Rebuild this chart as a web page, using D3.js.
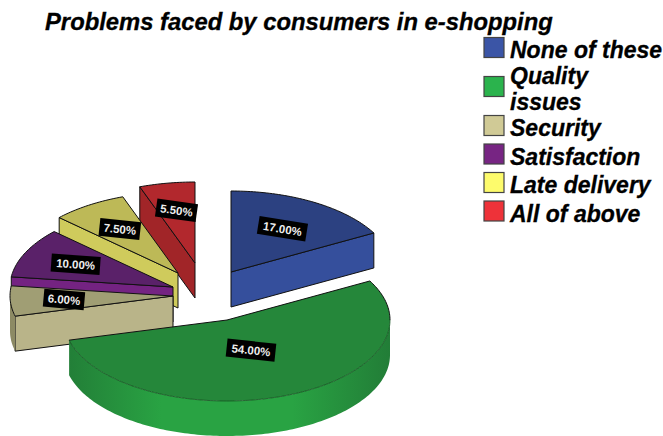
<!DOCTYPE html>
<html>
<head>
<meta charset="utf-8">
<script src="https://cdn.jsdelivr.net/npm/d3@7/dist/d3.min.js"></script>
<style>
  html, body { margin: 0; padding: 0; background: #fff; }
  svg { display: block; }
  text { font-family: "Liberation Sans", Arial, sans-serif; }
</style>
</head>
<body>
<svg id="chart" width="663" height="436"></svg>
<script>
// Share of respondents per problem, in pie order (clockwise from 12 o'clock)
const categories = ["None of these", "Quality issues", "Security", "Satisfaction", "Late delivery", "All of above"];
const percents = [17, 54, 6, 10, 7.5, 5.5];
const legendLines = [["None of these"], ["Quality", "issues"], ["Security"], ["Satisfaction"], ["Late delivery"], ["All of above"]];
const swatchColors = ["#3b55a6", "#2bb34d", "#d0ca96", "#772583", "#fdfb6c", "#ee3239"];
const topColors = ["#2c4181", "#25873a", "#a09e74", "#5a2169", "#bdb957", "#b2282d"];
const wallColors = ["#354f9c", "#29a343", "#b9b489", "#742382", "#cfcb5c", "#a12528"];
const edgeWallColors = ["#2c4181", "#227d37", "#8b8963", "#5a2169", "#a3a04a", "#8a2023"];

// Exploded slice offsets from the pie centre, label placement and label tilt
const explodeOffsets = [[26, -18], [22, 30], [-32, 6], [-32, -3], [-27, -17], [-10, -27]];
const labelRadii = [0.62, 0.4, 0.67, 0.66, 0.65, 0.66];
const labelTilts = [9, 6, 5, 4, 6, 8];

const width = 663, height = 436;
const cx = 205, cy = 290, rx = 163, ry = 81, depth = 35;
const edge = "#111";

const svg = d3.select("#chart");
const defs = svg.append("defs");

const pie = d3.pie().value(d => d).sort(null);
const arcs = pie(percents);
const swatch = d3.scaleOrdinal(categories, swatchColors);
const topFill = d3.scaleOrdinal(categories, topColors);
const wallFill = d3.scaleOrdinal(categories, wallColors);
const edgeFill = d3.scaleOrdinal(categories, edgeWallColors);

const line = d3.line();
const apexOf = i => [cx + explodeOffsets[i][0], cy + explodeOffsets[i][1]];
const rim = (i, a, r = 1, dy = 0) => {
  const [ax, ay] = apexOf(i);
  return [ax + rx * r * Math.sin(a), ay - ry * r * Math.cos(a) + dy];
};
const rimRun = (i, a0, a1, dy = 0) => {
  const steps = Math.max(2, Math.ceil(Math.abs(a1 - a0) / 0.02));
  return d3.range(steps + 1).map(k => rim(i, a0 + (a1 - a0) * k / steps, 1, dy));
};

// Paint from the back of the pie to the front so nearer slices overlap
const paintOrder = [5, 4, 3, 2, 0, 1];

paintOrder.forEach(i => {
  const d = arcs[i];
  const name = categories[i];
  const g = svg.append("g").attr("class", "slice");
  const apex = apexOf(i);
  const apexLow = [apex[0], apex[1] + depth];

  // Cut faces that turn toward the viewer
  const faceAngles = [];
  if (Math.sin(d.startAngle) < -1e-6) faceAngles.push(d.startAngle);
  if (Math.sin(d.endAngle) > 1e-6) faceAngles.push(d.endAngle);
  faceAngles.forEach(a => {
    g.append("path")
      .attr("d", line([apex, rim(i, a), rim(i, a, 1, depth), apexLow]) + "Z")
      .attr("fill", wallFill(name))
      .attr("stroke", edge).attr("stroke-width", 1).attr("stroke-linejoin", "round");
  });

  // Curved outer wall: only the lower half of the ellipse is visible
  const wallFrom = Math.max(d.startAngle, Math.PI / 2);
  const wallTo = Math.min(d.endAngle, 3 * Math.PI / 2);
  if (wallTo > wallFrom) {
    const upper = rimRun(i, wallFrom, wallTo);
    const lower = rimRun(i, wallTo, wallFrom, depth);
    const gradId = "wall-" + i;
    const grad = defs.append("linearGradient").attr("id", gradId)
      .attr("gradientUnits", "userSpaceOnUse")
      .attr("x1", apex[0] - rx).attr("x2", apex[0] + rx).attr("y1", 0).attr("y2", 0);
    [[0, edgeFill(name)], [0.3, wallFill(name)], [0.7, wallFill(name)], [1, edgeFill(name)]]
      .forEach(([o, c]) => grad.append("stop").attr("offset", o).attr("stop-color", c));
    g.append("path")
      .attr("d", line(upper.concat(lower)) + "Z")
      .attr("fill", `url(#${gradId})`);
  }

  // Top surface
  const rimTop = rimRun(i, d.startAngle, d.endAngle);
  g.append("path")
    .attr("d", line([apex].concat(rimTop)) + "Z")
    .attr("fill", topFill(name));

  if (i === 1) {
    // The large slice keeps a black outline on its back edges and a fine dark rim in front
    const split = Math.PI / 2;
    g.append("path")
      .attr("d", line(rimRun(i, split, d.endAngle)))
      .attr("fill", "none").attr("stroke", "#14501f").attr("stroke-width", 0.8);
    g.append("path")
      .attr("d", line([rim(i, d.endAngle), apex].concat(rimRun(i, d.startAngle, split))))
      .attr("fill", "none").attr("stroke", edge).attr("stroke-width", 1);
  } else {
    g.append("path")
      .attr("d", line([apex].concat(rimTop)) + "Z")
      .attr("fill", "none")
      .attr("stroke", edge).attr("stroke-width", 1).attr("stroke-linejoin", "round");
  }
});

// Value labels: white on black plates, tilted with the pie
arcs.forEach((d, i) => {
  const mid = (d.startAngle + d.endAngle) / 2;
  const [x, y] = rim(i, mid, labelRadii[i]);
  const txt = d3.format(".2f")(percents[i]) + "%";
  const w = txt.length === 6 ? 49 : 41;
  const g = svg.append("g")
    .attr("class", "value-label")
    .attr("transform", `translate(${x},${y}) rotate(${labelTilts[i]})`);
  g.append("rect")
    .attr("x", -w / 2).attr("y", -9).attr("width", w).attr("height", 18)
    .attr("fill", "#000");
  g.append("text")
    .attr("text-anchor", "middle").attr("y", 4.2)
    .attr("font-family", "'DejaVu Sans', sans-serif")
    .attr("font-size", 11.5).attr("font-weight", "bold")
    .attr("fill", "#eee")
    .text(txt);
});

// Title
svg.append("text")
  .attr("x", 45).attr("y", 30)
  .attr("font-size", 23.8).attr("font-weight", "bold").attr("font-style", "italic")
  .attr("fill", "#000").attr("stroke", "#000").attr("stroke-width", 0.3)
  .text("Problems faced by consumers in e-shopping");

// Legend: a wrapped row adds half its extra height above and below its swatch
const rowHeight = 28.5, rowExtra = 21, lineHeight = 26;
let rowY = 37.5;
categories.forEach((name, i) => {
  const lines = legendLines[i];
  const extra = (lines.length - 1) * rowExtra;
  rowY += extra / 2;
  svg.append("rect")
    .attr("x", 484).attr("y", rowY).attr("width", 20).attr("height", 20)
    .attr("fill", swatch(name))
    .attr("stroke", "#444").attr("stroke-width", 1.2);
  const t = svg.append("text")
    .attr("font-size", 23).attr("font-weight", "bold").attr("font-style", "italic")
    .attr("fill", "#000").attr("stroke", "#000").attr("stroke-width", 0.3);
  const firstBase = rowY + 20.5 - (lines.length - 1) * lineHeight / 2;
  lines.forEach((ln, k) => {
    t.append("tspan").attr("x", 510)
      .attr("y", firstBase + k * lineHeight)
      .text(ln);
  });
  rowY += rowHeight + extra / 2;
});
</script>
</body>
</html>
